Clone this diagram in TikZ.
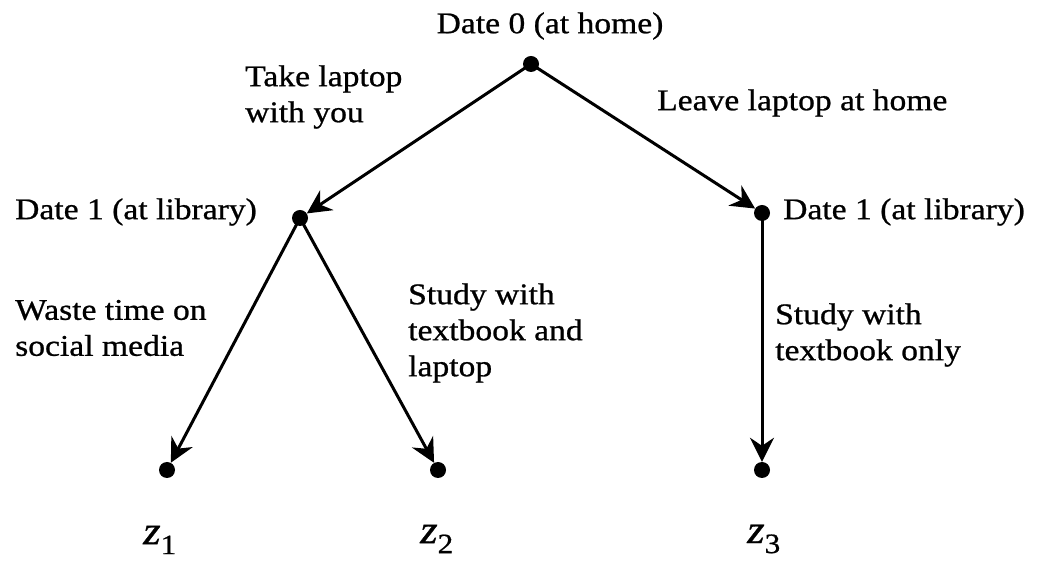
\documentclass[tikz,border=0pt]{standalone}
\usepackage{fontspec}
\setmainfont{Liberation Serif}[FakeStretch=1.12,FakeBold=0.8]
\usetikzlibrary{arrows.meta}
\begin{document}
\begin{tikzpicture}[x=1pt,y=1pt,
  dot/.style={circle,fill=black,inner sep=0pt,minimum size=16pt},
  arr/.style={line width=3pt,-{Stealth[length=24pt,width=24pt,inset=8pt]}},
  lbl/.style={font=\fontsize{30}{36}\selectfont,align=left,inner sep=0pt,anchor=west},
  zl/.style={font=\fontsize{40}{44}\selectfont,inner sep=0pt}]
\useasboundingbox (0,0) rectangle (1038,567);
\node[dot] (r) at (531,503) {};
\node[dot] (a) at (300,349) {};
\node[dot] (b) at (762,354) {};
\node[dot] (c) at (167,97) {};
\node[dot] (d) at (438,97) {};
\node[dot] (e) at (762,97) {};
\draw[arr] (r.center) -- (a);
\draw[arr] (r.center) -- (b);
\draw[arr] (a.center) -- (c);
\draw[arr] (a.center) -- (d);
\draw[arr] (b.center) -- (e);
\node[lbl,anchor=center] (t0) at (550,541) {Date 0 (at home)};
\node[lbl] (t1) at (245,470) {Take laptop\\with you};
\node[lbl] (t2) at (657,464) {Leave laptop at home};
\node[lbl] (t3) at (15,355) {Date 1 (at library)};
\node[lbl] (t4) at (783,355) {Date 1 (at library)};
\node[lbl] (t5) at (15,239) {Waste time on\\social media};
\node[lbl] (t6) at (408,234) {Study with\\textbook and\\laptop};
\node[lbl] (t7) at (775,232) {Study with\\textbook only};
\node[zl] (z1) at (160,27) {\itshape z\textsubscript{\upshape 1}};
\node[zl] (z2) at (437,28) {\itshape z\textsubscript{\upshape 2}};
\node[zl] (z3) at (764,28) {\itshape z\textsubscript{\upshape 3}};
\end{tikzpicture}
\end{document}
